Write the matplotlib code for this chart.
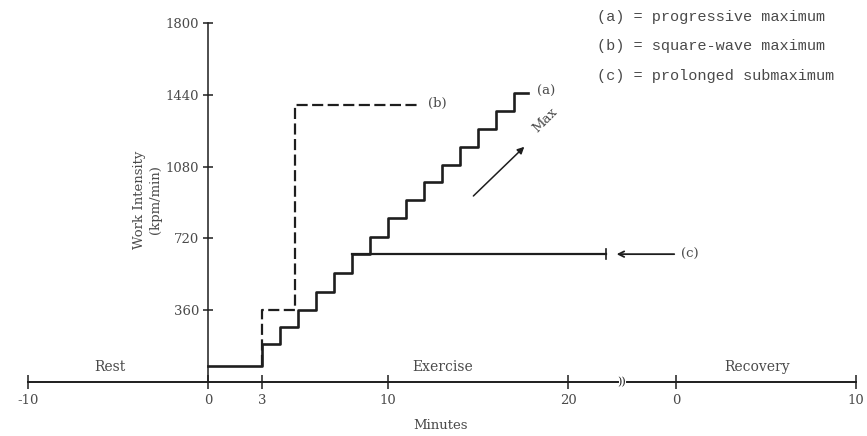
import matplotlib
matplotlib.use("Agg")
import matplotlib.pyplot as plt

# values (minutes, kpm/min)
rest_work = 80
a_times = [0, 3, 4, 5, 6, 7, 8, 9, 10, 11, 12, 13, 14, 15, 16, 17]
a_work = [80, 190, 275, 360, 450, 545, 640, 725, 820, 910, 1000, 1090, 1180, 1270, 1360, 1450]
a_end = 17.8
b_times = [3, 4.85]
b_work = [360, 1390]
b_end = 11.6
c_start, c_end, c_work = 8, 22.1, 640

recovery_offset = 26  # recovery minute 0 sits here on the exercise scale
x_ticks = [-10, 0, 3, 10, 20, recovery_offset, recovery_offset + 10]
x_labels = ["-10", "0", "3", "10", "20", "0", "10"]
y_ticks = [360, 720, 1080, 1440, 1800]

line_col = "#1e1e1e"
text_col = "#4a4a4a"
serif = "DejaVu Serif"
plt.rcParams["font.family"] = serif

fig = plt.figure(figsize=(8.67, 4.36), dpi=100)
ax = fig.add_axes([0, 0, 1, 1])
ax.set_xlim(-11.56, 36.61)
ax.set_ylim(-273, 1916)
ax.patch.set_visible(False)

for side in ("top", "right"):
    ax.spines[side].set_visible(False)
ax.spines["left"].set_position(("data", 0))
ax.spines["left"].set_bounds(0, 1800)
ax.spines["left"].set_color(line_col)
ax.spines["left"].set_linewidth(1.1)
ax.spines["bottom"].set_position(("data", 0))
ax.spines["bottom"].set_color("none")

ax.set_yticks(y_ticks)
ax.set_yticklabels([str(v) for v in y_ticks])
ax.set_xticks(x_ticks)
ax.set_xticklabels(x_labels)
ax.tick_params(axis="y", direction="inout", length=7, width=1.1, pad=3,
               colors=line_col, labelcolor=text_col, labelsize=9.5)
ax.tick_params(axis="x", direction="inout", length=10, width=1.1, pad=4,
               colors=line_col, labelcolor=text_col, labelsize=9.5)

# time axis with a break before the recovery section
ax.plot([-10, 22.75], [0, 0], color=line_col, lw=1.4, clip_on=False)
ax.plot([23.25, recovery_offset + 10], [0, 0], color=line_col, lw=1.4, clip_on=False)
ax.text(23.0, 0, "))", ha="center", va="center", fontsize=8, color=line_col)

# (a) progressive maximum
ax.step([0] + a_times[1:] + [a_end], a_work + [a_work[-1]], where="post",
        color=line_col, lw=1.9)
# (b) square-wave maximum
ax.step([b_times[0]] + b_times + [b_end], [rest_work] + b_work + [b_work[-1]],
        where="post", color=line_col, lw=1.6, linestyle=(0, (5, 2)))
# (c) prolonged submaximum
ax.plot([c_start, c_end], [c_work, c_work], color=line_col, lw=1.6)
ax.plot([c_end, c_end], [c_work - 25, c_work + 25], color=line_col, lw=1.2)
ax.annotate("", xy=(22.7, c_work), xytext=(25.9, c_work),
            arrowprops=dict(arrowstyle="->", color=line_col, lw=1.3,
                            shrinkA=0, shrinkB=0))

ax.text(18.3, 1459, "(a)", ha="left", va="center", fontsize=9.5, color=text_col)
ax.text(12.2, 1399, "(b)", ha="left", va="center", fontsize=9.5, color=text_col)
ax.text(26.3, 640, "(c)", ha="left", va="center", fontsize=9.5, color=text_col)

ax.annotate("", xy=(17.57, 1179), xytext=(14.74, 932),
            arrowprops=dict(arrowstyle="-|>", color=line_col, lw=1.1,
                            mutation_scale=10, shrinkA=0, shrinkB=0))
ax.text(18.7, 1313, "Max", rotation=45, ha="center", va="center",
        fontsize=9.5, color=text_col)

ax.text(-5.44, 73, "Rest", ha="center", va="center", fontsize=10, color=text_col)
ax.text(13.06, 73, "Exercise", ha="center", va="center", fontsize=10, color=text_col)
ax.text(30.5, 73, "Recovery", ha="center", va="center", fontsize=10, color=text_col)
ax.text(12.9, -218, "Minutes", ha="center", va="center", fontsize=9.5, color=text_col)
ax.text(-3.39, 912, "Work Intensity\n(kpm/min)", rotation=90, ha="center",
        va="center", fontsize=9.5, color=text_col, linespacing=1.3)

legend_lines = ["(a) = progressive maximum", "(b) = square-wave maximum",
                "(c) = prolonged submaximum"]
for label, yy in zip(legend_lines, [1831, 1685, 1535]):
    ax.text(21.6, yy, label, ha="left", va="center", fontsize=11,
            family="Liberation Mono", color=text_col)

fig.savefig("out.png", dpi=100)
